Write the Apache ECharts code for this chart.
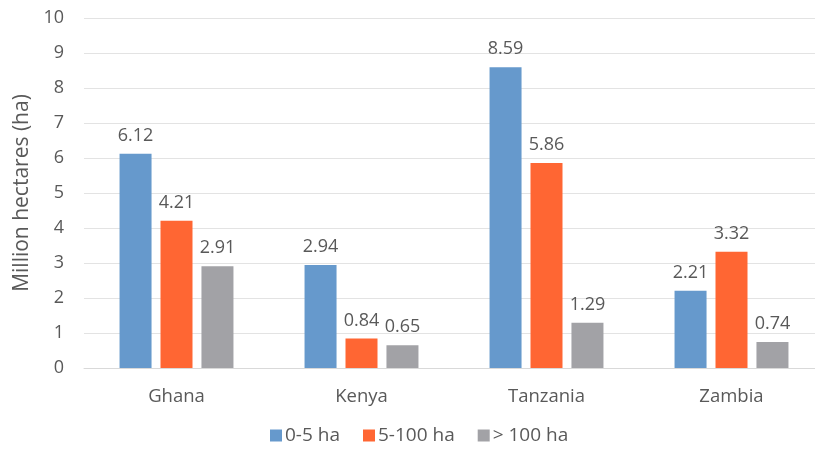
<!DOCTYPE html>
<html>
<head>
<meta charset="utf-8">
<script src="https://cdn.jsdelivr.net/npm/echarts@6/dist/echarts.min.js"></script>
<style>html,body{margin:0;padding:0;background:#fff;}#c{width:815px;height:451px;}</style>
</head>
<body>
<div id="c"></div>
<script>
const categories = ['Ghana', 'Kenya', 'Tanzania', 'Zambia'];
const small = [6.12, 2.94, 8.59, 2.21];
const medium = [4.21, 0.84, 5.86, 3.32];
const large = [2.91, 0.65, 1.29, 0.74];
const seriesNames = ['0-5 ha', '5-100 ha', '> 100 ha'];
const colors = ['#6699CC', '#FF6633', '#A2A2A6'];

const font = 'Open Sans, Noto Sans, sans-serif';
const txt = '#595959';
const chart = echarts.init(document.getElementById('c'));
const mk = (name, data, color) => ({
  name, type: 'bar', data, barWidth: 32, barGap: '28%',
  itemStyle: { color },
  label: { show: true, position: 'top', distance: 9, color: txt, fontSize: 18, fontFamily: font,
    formatter: p => p.value.toFixed(2) }
});
chart.setOption({
  animation: false,
  textStyle: { fontFamily: font },
  legend: {
    bottom: 1, left: 265, itemWidth: 12, itemHeight: 12, itemGap: 23,
    icon: 'rect',
    textStyle: { color: txt, fontSize: 19, fontFamily: font, padding: [0, 0, 0, -2] },
    data: seriesNames
  },
  grid: { left: 84, top: 18, width: 740, height: 350, outerBoundsMode: 'none', containLabel: false },
  xAxis: {
    type: 'category', data: categories,
    axisLine: { lineStyle: { color: '#D9D9D9' } },
    axisTick: { show: false },
    axisLabel: { color: txt, fontSize: 18.5, margin: 19, fontFamily: font }
  },
  yAxis: {
    type: 'value', min: 0, max: 10, interval: 1,
    name: 'Million hectares (ha)', nameLocation: 'middle', nameGap: 50,
    nameTextStyle: { color: txt, fontSize: 21, fontFamily: font },
    axisLabel: { color: txt, fontSize: 18, margin: 20, fontFamily: font },
    splitLine: { lineStyle: { color: '#E3E3E3' } }
  },
  series: [mk(seriesNames[0], small, colors[0]), mk(seriesNames[1], medium, colors[1]), mk(seriesNames[2], large, colors[2])]
});
</script>
</body>
</html>
